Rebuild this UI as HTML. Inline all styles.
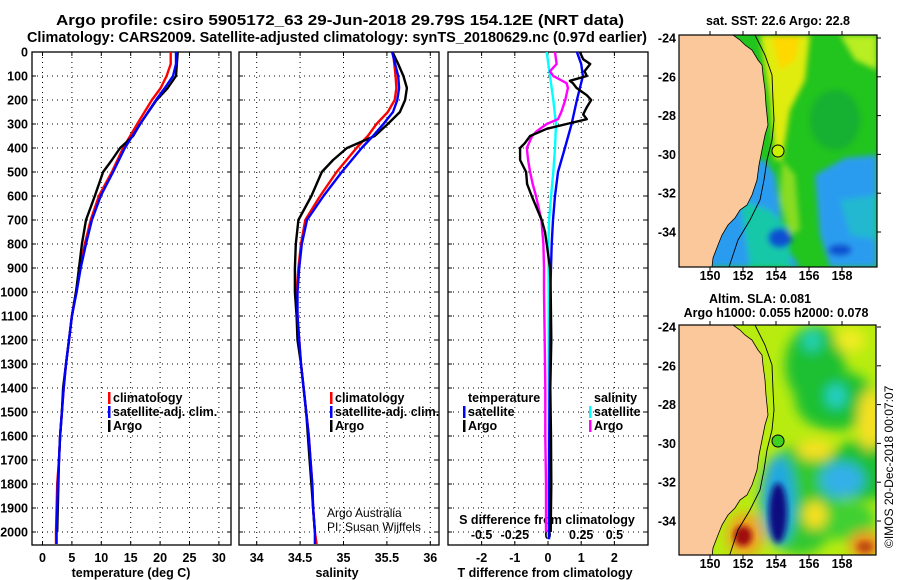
<!DOCTYPE html>
<html><head><meta charset="utf-8"><style>
body{margin:0;background:#fff}
svg{display:block;font-family:"Liberation Sans",Arial,sans-serif}
.b{font-weight:bold;font-size:12.5px}
</style></head><body>
<svg id="c" width="900" height="580" viewBox="0 0 900 580">
<defs>
<filter id="bl" x="-20%" y="-20%" width="140%" height="140%"><feGaussianBlur stdDeviation="3"/></filter>
<filter id="bl2" x="-50%" y="-50%" width="200%" height="200%"><feGaussianBlur stdDeviation="6"/></filter>
<clipPath id="cm1"><rect x="679" y="35" width="198" height="232"/></clipPath>
<clipPath id="cm2"><rect x="679" y="325" width="197" height="230"/></clipPath>
</defs>
<text x="340" y="25" text-anchor="middle" font-weight="bold" font-size="14.5" textLength="568" lengthAdjust="spacingAndGlyphs">Argo profile: csiro 5905172_63 29-Jun-2018 29.79S 154.12E (NRT data)</text>
<text x="337" y="42" text-anchor="middle" font-weight="bold" font-size="14.5" textLength="620" lengthAdjust="spacingAndGlyphs">Climatology: CARS2009. Satellite-adjusted climatology: synTS_20180629.nc (0.97d earlier)</text>
<g id="plots"></g>
<!-- SST map -->
<g>
<g clip-path="url(#cm1)">
<rect x="679" y="35" width="198" height="232" fill="#22c41e"/>
<g filter="url(#bl)">
<polygon points="679,165 765,160 775,175 785,245 800,267 679,267" fill="#2a9cf0"/>
<polygon points="815,175 845,158 877,155 877,267 830,267 820,235" fill="#2a9cf0"/>
<polygon points="740,200 770,210 790,230 790,267 750,267" fill="#18c8a8"/>
<polygon points="840,200 877,195 877,240 850,235" fill="#20b8d0"/>
<ellipse cx="780" cy="238" rx="12" ry="10" fill="#1050d0"/>
<ellipse cx="840" cy="250" rx="12" ry="6" fill="#1050d0"/>
<polygon points="760,35 810,35 805,80 790,110 782,160 775,160 770,100" fill="#e0ec10"/>
<polygon points="772,35 800,35 795,60 780,70" fill="#ffd800"/>
<polygon points="840,35 877,35 877,70 855,60" fill="#b8ee20"/>
<polygon points="782,160 795,175 800,230 790,235 780,200" fill="#88dc20"/>
<ellipse cx="835" cy="120" rx="25" ry="30" fill="#18b030"/>
</g>
<polygon points="679,35 733,35 740,40 745,45 752,50 758,60 762,65 763,75 765,90 766,105 768,125 765,135 762,150 759,165 757,180 752,195 747,205 740,210 735,218 728,225 722,235 718,245 713,258 712,267 679,267" fill="#fac89a" stroke="#000" stroke-width="0.8"/>
<polyline points="755,35 765,55 772,75 773,100 774,120 772,140 767,160 764,180 760,200 750,220 738,240 729,267" fill="none" stroke="#000" stroke-width="0.9"/>
</g>
<rect x="679" y="35" width="198" height="232" fill="none" stroke="#000" stroke-width="1.2"/>
<circle cx="778" cy="151" r="6" fill="#c8f000" stroke="#000" stroke-width="1"/>
</g>
<text x="778" y="25" text-anchor="middle" class="b">sat. SST: 22.6 Argo: 22.8</text>
<!-- SLA map -->
<g>
<g clip-path="url(#cm2)">
<rect x="679" y="325" width="198" height="232" fill="#b8ec10"/>
<g filter="url(#bl2)">
<ellipse cx="815" cy="365" rx="30" ry="40" fill="#1ec030"/>
<ellipse cx="835" cy="400" rx="40" ry="30" fill="#1ec030"/>
<ellipse cx="865" cy="470" rx="40" ry="30" fill="#1ec030"/>
<ellipse cx="800" cy="500" rx="40" ry="55" fill="#30c830"/>
<ellipse cx="845" cy="520" rx="30" ry="20" fill="#40d030"/>
<ellipse cx="812" cy="340" rx="10" ry="12" fill="#20d0b0"/>
<ellipse cx="836" cy="396" rx="10" ry="12" fill="#20d0c8"/>
<ellipse cx="842" cy="480" rx="22" ry="18" fill="#30b0e8"/>
<ellipse cx="778" cy="500" rx="17" ry="45" fill="#20a8e0"/>
<ellipse cx="850" cy="340" rx="15" ry="12" fill="#f0ec20"/>
<ellipse cx="870" cy="420" rx="12" ry="30" fill="#f8e020"/>
<ellipse cx="815" cy="450" rx="18" ry="10" fill="#f8e020"/>
<ellipse cx="815" cy="515" rx="12" ry="14" fill="#f8e020"/>
<ellipse cx="745" cy="535" rx="18" ry="22" fill="#f0a020"/>
<ellipse cx="865" cy="545" rx="16" ry="14" fill="#f09020"/>
</g>
<ellipse cx="778" cy="513" rx="9" ry="30" fill="#101080" filter="url(#bl)"/>
<ellipse cx="743" cy="536" rx="9" ry="10" fill="#a01010" filter="url(#bl)"/>
<ellipse cx="865" cy="547" rx="8" ry="6" fill="#c05010" filter="url(#bl)"/>
<polygon points="679,325 733,325 740,330 745,335 752,340 758,350 762,355 763,365 765,380 766,395 768,415 765,425 762,440 759,455 757,470 752,485 747,495 740,500 735,508 728,515 722,525 718,535 713,548 712,557 679,557" fill="#fac89a" stroke="#000" stroke-width="0.8"/>
<polyline points="755,325 765,345 772,365 773,390 774,410 772,430 767,450 764,470 760,490 750,510 738,530 729,557" fill="none" stroke="#000" stroke-width="0.9"/>
</g>
<rect x="679" y="325" width="197" height="230" fill="none" stroke="#000" stroke-width="1.2"/>
<circle cx="778" cy="441" r="6" fill="#40d020" stroke="#000" stroke-width="1"/>
</g>
<text x="760" y="303" text-anchor="middle" class="b">Altim. SLA: 0.081</text>
<text x="776" y="317" text-anchor="middle" class="b">Argo h1000: 0.055 h2000: 0.078</text>
<text transform="translate(893,548) rotate(-90)" font-size="12">©IMOS 20-Dec-2018 00:07:07</text>
<text x="327" y="517" font-size="12">Argo Australia</text>
<text x="327" y="531" font-size="12">PI: Susan Wijffels</text>
</svg>
<script>
// ---- data ----
const depthTicks=[0,100,200,300,400,500,600,700,800,900,1000,1100,1200,1300,1400,1500,1600,1700,1800,1900,2000];
const tTicks=[0,5,10,15,20,25,30];
const sTicks=[34,34.5,35,35.5,36];
const dTTicks=[-2,-1,0,1,2];
const dSTicks=[-0.5,-0.25,0,0.25,0.5];
const dSTickLabels=["-0.5","-0.25","0","0.25","0.5"];
const tArgoDepth=[0,100,150,200,300,350,400,450,500,600,700,800,900,1000,1100,1200,1300,1400,1500,1600,1700,1800,1900,2000];
const tArgo=[23.0,22.7,21.3,19.4,16.6,15.4,13.2,11.8,10.3,8.9,7.4,6.7,6.2,5.7,5.0,4.5,4.0,3.5,3.3,3.0,2.8,2.7,2.6,2.5];
const climDepth=[0,50,100,150,200,300,400,500,600,700,800,900,1000,1100,1200,1300,1400,1500,1600,1700,1800,1900,2000,2050];
const tClim=[21.8,21.8,21.1,20.1,18.6,16.1,13.7,11.8,9.6,8.2,7.2,6.4,5.7,5.0,4.5,4.0,3.6,3.3,3.0,2.8,2.5,2.4,2.3,2.3];
const tSat=[22.7,22.7,22.2,20.8,19.3,16.6,14.0,12.0,9.9,8.4,7.4,6.5,5.8,5.0,4.5,4.0,3.6,3.3,3.0,2.8,2.6,2.5,2.4,2.4];
const sArgoDepth=[0,50,100,150,200,250,300,350,400,450,500,600,700,800,900,1000,1100,1200,1300,1400,1500,1600,1700,1800,1900,2000];
const sArgo=[35.565,35.63,35.69,35.73,35.71,35.65,35.51,35.36,35.04,34.88,34.75,34.63,34.48,34.45,34.44,34.44,34.46,34.47,34.51,34.54,34.57,34.59,34.61,34.63,34.65,34.67];
const sClimDepth=[0,100,150,200,250,300,350,400,500,600,700,800,900,1000,1100,1200,1300,1400,1500,1600,1700,1800,1900,2000,2050];
const sClim=[35.57,35.6,35.61,35.59,35.51,35.38,35.28,35.15,34.92,34.73,34.56,34.51,34.48,34.46,34.47,34.49,34.51,34.54,34.57,34.6,34.62,34.64,34.65,34.67,34.69];
const sSat=[35.56,35.63,35.64,35.62,35.57,35.46,35.34,35.21,34.98,34.77,34.58,34.52,34.49,34.47,34.47,34.49,34.51,34.54,34.57,34.6,34.62,34.64,34.65,34.67,34.67];
const dTSatDepth=[0,50,100,200,300,400,500,600,700,800,900,1000,1200,1400,1600,1800,2030];
const dTSat=[0.87,1.0,1.05,0.87,0.71,0.51,0.3,0.21,0.15,0.11,0.09,0.07,0.06,0.05,0.04,0.03,0.03];
const dTArgoDepth=[0,30,50,80,100,120,130,150,180,200,230,260,280,300,320,350,380,400,450,500,550,600,650,700,750,800,900,1000,1200,1400,1600,1800,2000];
const dTArgo=[0.96,1.06,1.27,1.1,1.17,0.66,0.75,0.86,1.17,1.3,1.17,1.06,1.17,0.56,-0.04,-0.54,-0.7,-0.84,-0.84,-0.66,-0.63,-0.49,-0.34,-0.19,-0.09,-0.04,0.06,0.08,0.1,0.07,0.09,0.1,0.08];
const dSArgoDepth=[0,50,80,100,130,150,200,250,280,300,330,350,400,450,500,550,600,650,700,800,900,1000,1200,1400,1600,1800,2000];
const dSArgo=[0.053,0.065,0.015,0.04,0.14,0.15,0.13,0.10,0.075,-0.01,-0.085,-0.12,-0.16,-0.15,-0.135,-0.115,-0.09,-0.07,-0.05,-0.035,-0.03,-0.03,-0.025,-0.02,-0.02,-0.015,-0.015];
const dSSatDepth=[0,100,200,300,400,500,600,700,800,1000,1400,1800,2030];
const dSSat=[-0.01,0.015,0.04,0.06,0.053,0.04,0.023,0.008,0.003,0.005,0.005,0.005,0.005];
// ---- axes ----
const yD=d=>52+d*0.24;
const xT=v=>42.5+v*5.88;
const xS=v=>256.7+(v-34)*86.8;
const xdT=v=>548+v*33.2;
const xdS=v=>548+v*132.8;
const NS="http://www.w3.org/2000/svg";
const G=document.getElementById('plots');
function mk(tag,at,parent){const e=document.createElementNS(NS,tag);for(const k in at)e.setAttribute(k,at[k]);(parent||G).appendChild(e);return e;}
const panels=[{x0:32,x1:231,xs:xT,ticks:tTicks,lab:tTicks.map(String),title:"temperature (deg C)",tx:131,n:'temperature-panel'},
{x0:239,x1:439,xs:xS,ticks:sTicks,lab:sTicks.map(String),title:"salinity",tx:337,n:'salinity-panel'},
{x0:448,x1:648,xs:xdT,ticks:dTTicks,lab:dTTicks.map(String),title:"T difference from climatology",tx:545,n:'difference-panel'}];
const Y0=52,Y1=545;
panels.forEach(p=>{
  const g=mk('g',{});
  
  
  depthTicks.forEach(d=>{const l=mk('line',{x1:p.x0,x2:p.x1,y1:yD(d),y2:yD(d),stroke:'#000','stroke-width':1,'stroke-dasharray':'1,4'},g);
    
    mk('line',{x1:p.x0,x2:p.x0+4,y1:yD(d),y2:yD(d),stroke:'#000'},g);mk('line',{x1:p.x1-4,x2:p.x1,y1:yD(d),y2:yD(d),stroke:'#000'},g);});
  p.ticks.forEach((t,i)=>{const x=p.xs(t);
    const l=mk('line',{x1:x,x2:x,y1:Y0,y2:Y1,stroke:'#000','stroke-width':1,'stroke-dasharray':'1,4'},g);
    
    mk('line',{x1:x,x2:x,y1:Y1-4,y2:Y1,stroke:'#000'},g);mk('line',{x1:x,x2:x,y1:Y0,y2:Y0+4,stroke:'#000'},g);
    const tx=mk('text',{x:x,y:562,'text-anchor':'middle',class:'b'},g);tx.textContent=p.lab[i];
    });
  mk('rect',{x:p.x0,y:Y0,width:p.x1-p.x0,height:Y1-Y0,fill:'none',stroke:'#000','stroke-width':1.3},g);
  const tt=mk('text',{x:p.tx,y:577,'text-anchor':'middle',class:'b'},g);tt.textContent=p.title;
  
});
depthTicks.forEach(d=>{const t=mk('text',{x:28,y:yD(d)+4.5,'text-anchor':'end',class:'b'});t.textContent=d;
  });
dSTicks.forEach((v,i)=>{const t=mk('text',{x:xdS(v),y:539,'text-anchor':'middle',class:'b'});t.textContent=dSTickLabels[i];
  });
{const t=mk('text',{x:547,y:524,'text-anchor':'middle',class:'b'});t.textContent='S difference from climatology';
 }
function line(xs,vals,depths,col,name){const pts=vals.map((v,i)=>xs(v).toFixed(1)+','+yD(depths[i]).toFixed(1)).join(' ');
  const l=mk('polyline',{points:pts,fill:'none',stroke:col,'stroke-width':2.4,'stroke-linejoin':'round'});
  }
line(xT,tClim,climDepth,'#f00','temperature-climatology-line');
line(xT,tArgo,tArgoDepth,'#000','temperature-argo-line');
line(xT,tSat,climDepth,'#00f','temperature-satellite-line');
line(xS,sClim,sClimDepth,'#f00','salinity-climatology-line');
line(xS,sArgo,sArgoDepth,'#000','salinity-argo-line');
line(xS,sSat,sClimDepth,'#00f','salinity-satellite-line');
line(xdS,dSSat,dSSatDepth,'#0ff','dS-satellite-line');
line(xdS,dSArgo,dSArgoDepth,'#f0f','dS-argo-line');
line(xdT,dTSat,dTSatDepth,'#00f','dT-satellite-line');
line(xdT,dTArgo,dTArgoDepth,'#000','dT-argo-line');
function leg(x,y,col,txt,name){if(col){const r=mk('rect',{x:x-5,y:y-10,width:2.5,height:12,fill:col});}
  const t=mk('text',{x:x,y:y,class:'b'});t.textContent=txt;}
leg(113,402,'#f00','climatology','legend-climatology');
leg(113,416,'#00f','satellite-adj. clim.','legend-satellite-adj');
leg(113,430,'#000','Argo','legend-argo');
leg(335,402,'#f00','climatology','legend-climatology-2');
leg(335,416,'#00f','satellite-adj. clim.','legend-satellite-adj-2');
leg(335,430,'#000','Argo','legend-argo-2');
leg(468,402,null,'temperature','legend-temperature-heading');
leg(468,416,'#00f','satellite','legend-t-satellite');
leg(468,430,'#000','Argo','legend-t-argo');
leg(594,402,null,'salinity','legend-salinity-heading');
leg(594,416,'#0ff','satellite','legend-s-satellite');
leg(594,430,'#f0f','Argo','legend-s-argo');
const lonTicks=[150,152,154,156,158];
const latTicks=[-24,-26,-28,-30,-32,-34];
const xLon=v=>710+(v-150)*16.5;
const yLat=(v,top)=>top+(-24-v)*19.4;
[[38,280,35,267],[327,568,325,555]].forEach(([t0,ly,yt,yb])=>{
  lonTicks.forEach(v=>{const t=mk('text',{x:xLon(v),y:ly,'text-anchor':'middle',class:'b'});t.textContent=v;
    
    mk('line',{x1:xLon(v),x2:xLon(v),y1:yt-4,y2:yt,stroke:'#000'});mk('line',{x1:xLon(v),x2:xLon(v),y1:yb,y2:yb+4,stroke:'#000'});});
  latTicks.forEach(v=>{const y=yLat(v,t0);const t=mk('text',{x:676,y:y+4.5,'text-anchor':'end',class:'b'});t.textContent=v;
    
    mk('line',{x1:877,x2:881,y1:y,y2:y,stroke:'#000'});});
});
</script>
</body></html>
